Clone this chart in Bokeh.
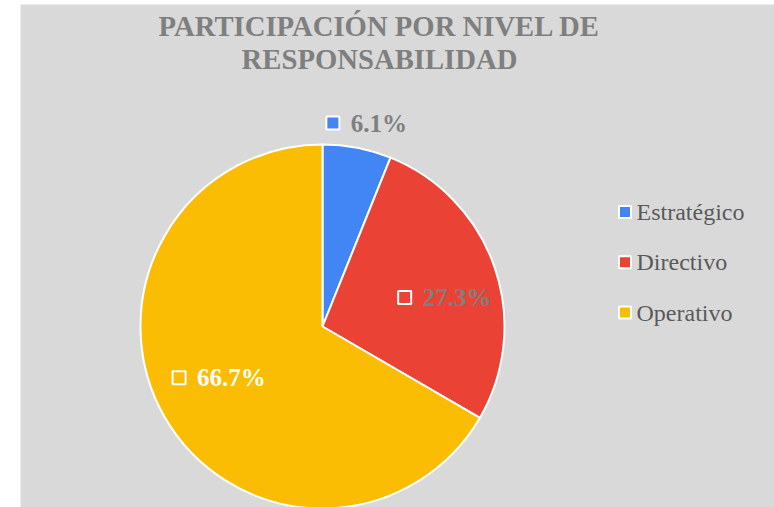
import math
from bokeh.plotting import figure
from bokeh.models import Range1d, ColumnDataSource
from bokeh.core.properties import value
from bokeh.embed import file_html
from bokeh.resources import INLINE

# ---- data ----
categories = ["Estratégico", "Directivo", "Operativo"]
percentages = [6.1, 27.3, 66.7]
colors = ["#4285F4", "#EA4335", "#FBBC04"]
title_lines = ["PARTICIPACIÓN POR NIVEL DE", "RESPONSABILIDAD"]

# ---- layout (page-pixel coordinates, y negated) ----
W, H = 774, 507
X0, Y0 = 0, 0
p = figure(width=W, height=H, output_backend="svg", toolbar_location=None,
           x_range=Range1d(X0, X0 + W), y_range=Range1d(-(Y0 + H), -Y0),
           x_axis_location=None, y_axis_location=None, min_border=0)
p.outline_line_color = None
p.grid.visible = False
p.background_fill_color = "white"
p.border_fill_color = "white"

# chart area background
p.quad(left=20, right=800, top=-4, bottom=-520, fill_color="#D9D9D9", line_color=None)

# ---- pie ----
cx, cy, R = 322, -326, 182
total = sum(percentages)
starts, ends, mids = [], [], []
acc = 0.0
for v in percentages:
    a0 = math.pi / 2 - acc / total * 2 * math.pi
    acc += v
    a1 = math.pi / 2 - acc / total * 2 * math.pi
    starts.append(a0)
    ends.append(a1)
    mids.append((a0 + a1) / 2)

src = ColumnDataSource(dict(start=starts, end=ends, color=colors, cat=categories))
p.wedge(x=cx, y=cy, radius=R, start_angle="start", end_angle="end", direction="clock",
        fill_color="color", line_color="white", line_width=2, source=src)

# ---- data labels ----
label_font_px = 25
label_r = [208, 125, 116]
label_nudge_deg = [-1.1, -5.5, -3.7]
label_colors = ["#7F7F7F", "#7F7F7F", "#FFFFFF"]
for i, v in enumerate(percentages):
    txt = f"{v:.1f}%"
    ang = mids[i] + math.radians(label_nudge_deg[i])
    gx = cx + label_r[i] * math.cos(ang)
    gy = cy + label_r[i] * math.sin(ang)
    ndig = sum(ch.isdigit() for ch in txt)
    tw = label_font_px * (0.5 * ndig + 0.25 + 1.0)
    gw = 26 + tw
    sq_x = gx - gw / 2 + 8
    p.scatter(x=[sq_x], y=[gy], marker="square", size=13, fill_color=colors[i],
              line_color="white", line_width=2)
    p.text(x=[sq_x + 18], y=[gy], text=[txt], text_font=value("Liberation Serif"),
           text_font_style="bold", text_font_size=f"{label_font_px}px",
           text_color=label_colors[i], text_align="left", text_baseline="middle")

# ---- title ----
p.text(x=[379, 379], y=[-25.5, -58.5], text=title_lines, text_font=value("Liberation Serif"),
       text_font_style="bold", text_font_size="28.7px", text_color="#7F7F7F",
       text_align="center", text_baseline="middle")

# ---- legend ----
leg_y = [-(211.5 + i * 50.3) for i in range(len(categories))]
p.scatter(x=[624.5] * len(categories), y=leg_y, marker="square", size=12,
          fill_color=colors, line_color="white", line_width=2)
p.text(x=[636] * len(categories), y=leg_y, text=categories, text_font=value("Liberation Serif"),
       text_font_size="24px", text_color="#595959", text_align="left", text_baseline="middle")

open("out.html", "w").write(file_html(p, INLINE))
